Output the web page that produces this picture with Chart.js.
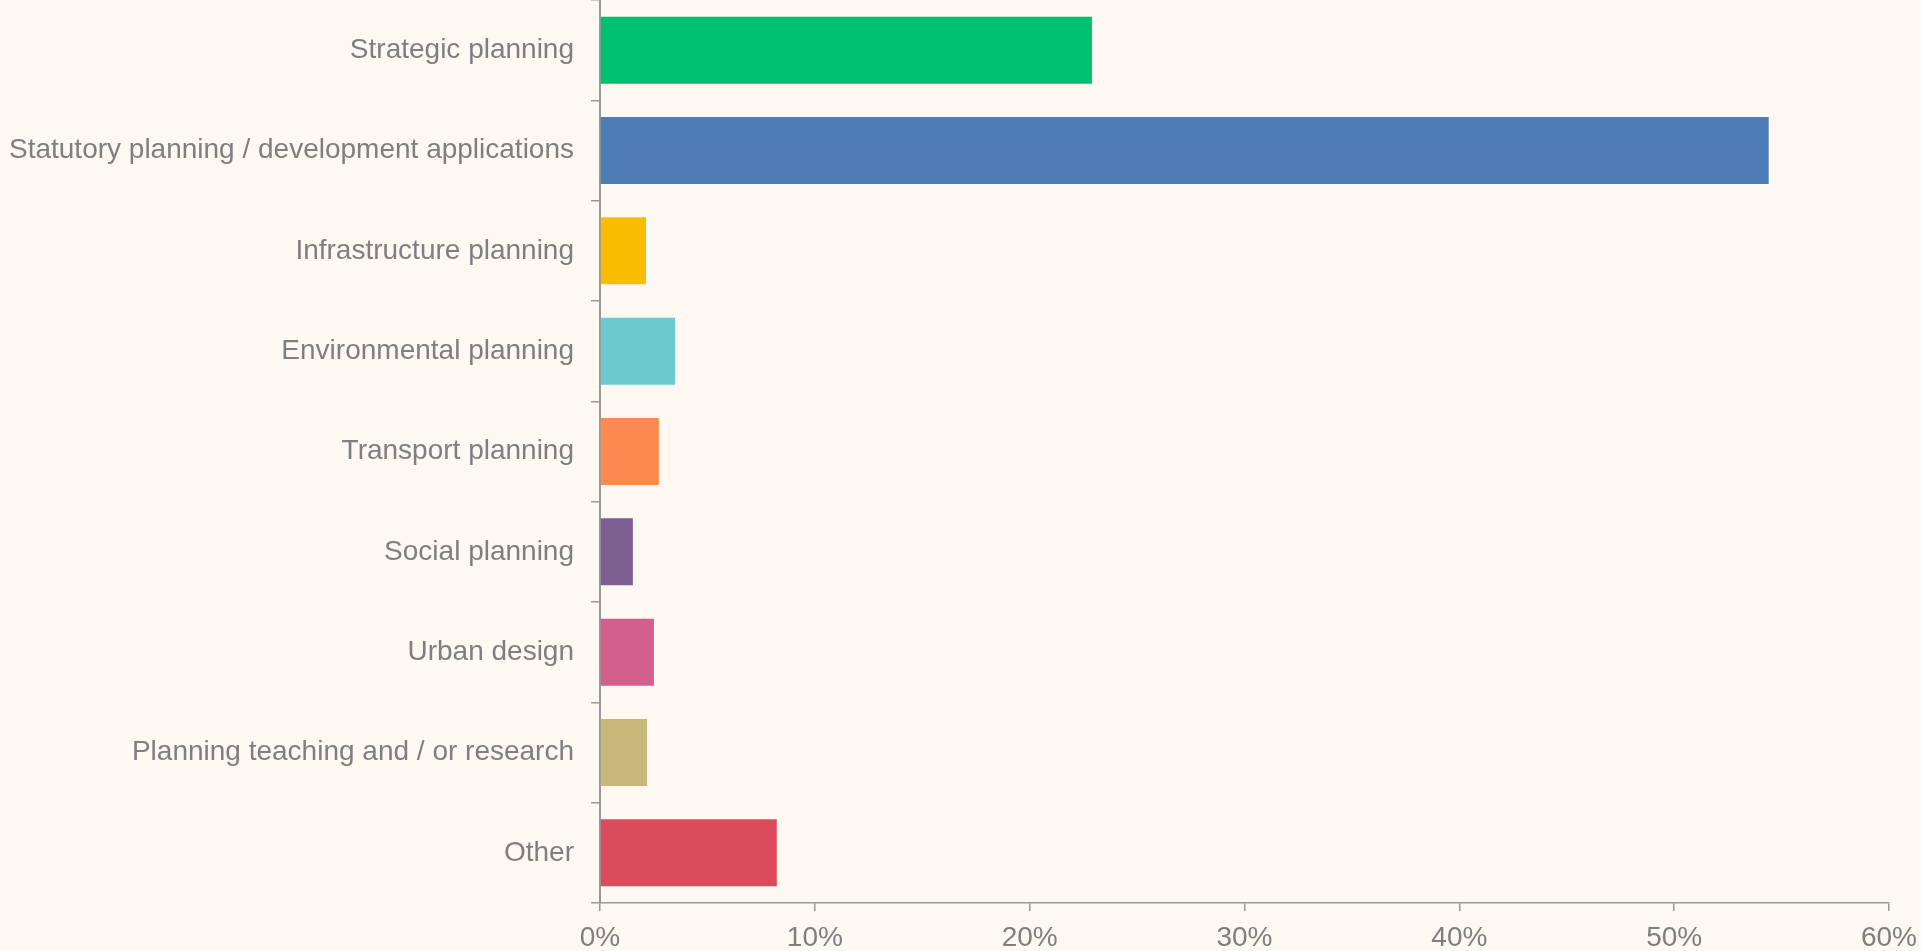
<!DOCTYPE html>
<html>
<head>
<meta charset="utf-8">
<script src="https://cdn.jsdelivr.net/npm/chart.js@4/dist/chart.umd.min.js"></script>
<style>
  html, body { margin: 0; padding: 0; background: #fdf8f1; }
  .wrap { width: 1921px; height: 951px; position: relative; }
</style>
</head>
<body>
<div class="wrap"><canvas id="myChart"></canvas></div>
<script>
// share of respondents by main area of practice (%)
const categories = [
    "Strategic planning",
    "Statutory planning / development applications",
    "Infrastructure planning",
    "Environmental planning",
    "Transport planning",
    "Social planning",
    "Urban design",
    "Planning teaching and / or research",
    "Other"
];
const shares = [22.9, 54.4, 2.14, 3.49, 2.74, 1.53, 2.51, 2.19, 8.23];
const barColours = ["#00c170", "#4e7cb4", "#f8bd00", "#6cc9cd", "#ff8a50",
                    "#7d5f91", "#d35f8d", "#c8b87a", "#da4c5c"];
const xTicks = [0, 10, 20, 30, 40, 50, 60];

const grey = "#7f7f7f";
const lineGrey = "#999999";
const labelFont = { family: "'Liberation Sans', Arial, sans-serif", size: 28 };

const ctx = document.getElementById('myChart').getContext('2d');
new Chart(ctx, {
    type: 'bar',
    data: {
        labels: categories,
        datasets: [{
            data: shares,
            backgroundColor: barColours,
            borderWidth: 0,
            barPercentage: 0.667,
            categoryPercentage: 1.0
        }]
    },
    options: {
        indexAxis: 'y',
        responsive: true,
        maintainAspectRatio: false,
        animation: false,
        layout: { padding: 0 },
        plugins: {
            legend: { display: false },
            tooltip: { enabled: false }
        },
        scales: {
            x: {
                min: xTicks[0],
                max: xTicks[xTicks.length - 1],
                afterBuildTicks: (scale) => {
                    scale.ticks = xTicks.map(v => ({ value: v }));
                },
                afterFit: (scale) => {
                    scale.height = 48;
                    scale.paddingLeft = 0;
                    scale.paddingRight = 32;
                },
                grid: {
                    drawOnChartArea: false,
                    drawTicks: true,
                    tickLength: 8,
                    color: lineGrey,
                    lineWidth: 1.5
                },
                border: { display: true, color: lineGrey, width: 1.5 },
                ticks: {
                    color: grey,
                    padding: 10,
                    maxRotation: 0,
                    font: labelFont,
                    callback: (v) => v + '%'
                }
            },
            y: {
                afterFit: (scale) => {
                    scale.width = 600;
                    scale.paddingTop = 0;
                    scale.paddingBottom = 0;
                },
                grid: {
                    offset: true,
                    drawOnChartArea: false,
                    drawTicks: true,
                    tickLength: 9,
                    color: lineGrey,
                    lineWidth: 1.5
                },
                border: { display: true, color: lineGrey, width: 2 },
                ticks: {
                    color: grey,
                    padding: 17,
                    font: labelFont
                }
            }
        }
    }
});
</script>
</body>
</html>
